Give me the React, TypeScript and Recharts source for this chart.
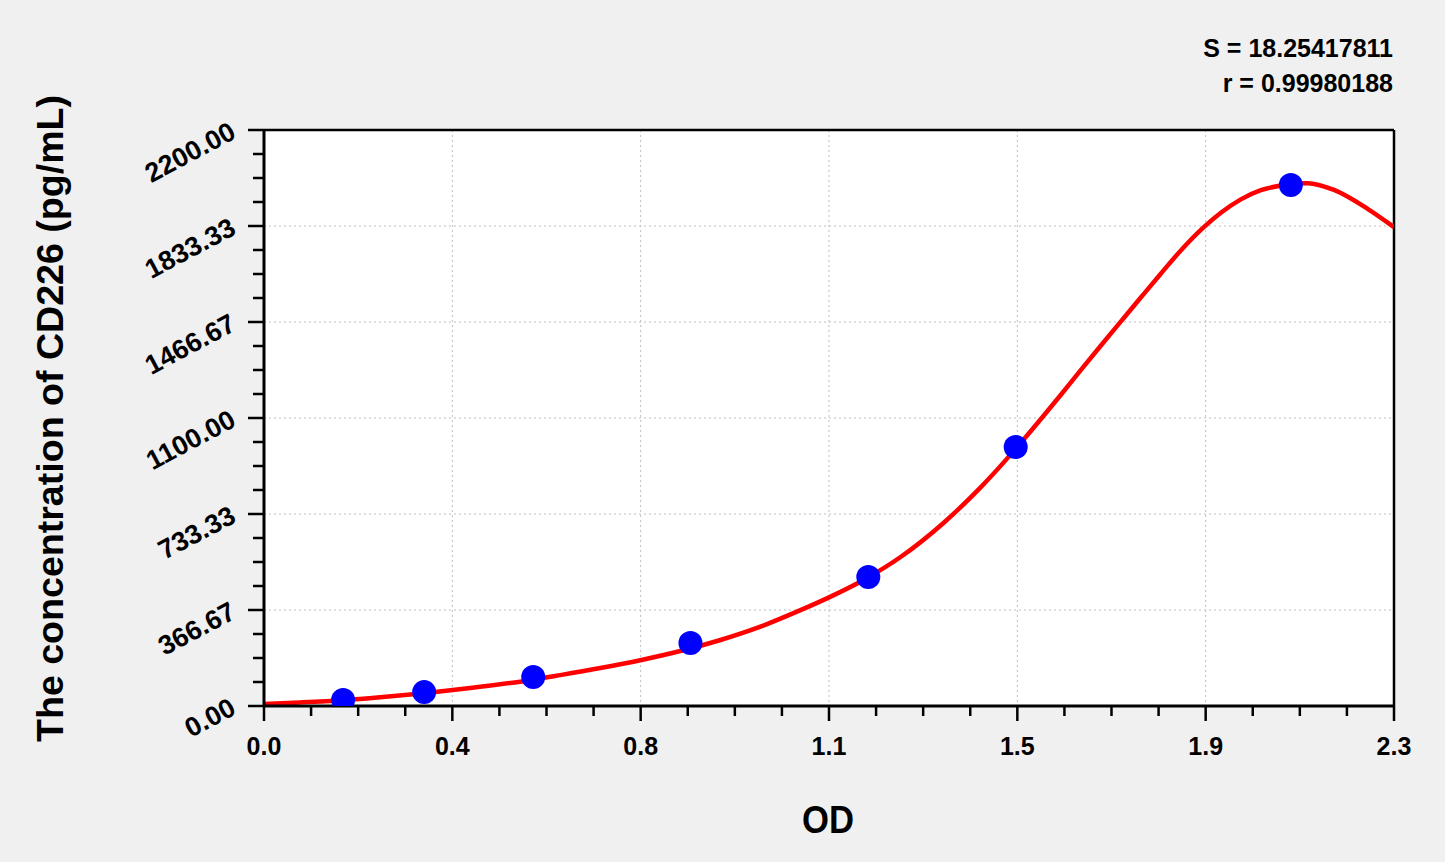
import React from 'react';
import { ComposedChart, Line, Scatter, XAxis, YAxis, CartesianGrid, ReferenceLine } from 'recharts';

// Fitted standard curve (OD -> concentration)
const curveOD = [0, 0.0733, 0.1609, 0.2363, 0.3259, 0.4197, 0.5216, 0.603, 0.6845, 0.766, 0.8475, 0.929, 1.0105, 1.0919, 1.149, 1.2305, 1.2957, 1.3853, 1.4586, 1.5299, 1.5809, 1.6216, 1.6624, 1.7031, 1.7438, 1.7846, 1.8253, 1.8661, 1.9129, 1.9476, 1.9883, 2.0291, 2.0759, 2.1, 2.1248, 2.1778, 2.247, 2.3];
const curveConc = [8, 13.5, 22, 33, 49, 69, 93, 118, 145, 175, 210, 252, 303, 366, 414, 492, 569, 703, 835, 982, 1095, 1188, 1283, 1376, 1468, 1560, 1651, 1740, 1829, 1884, 1935, 1970, 1990, 1996, 1997, 1971, 1898, 1829];

// Measured standards
const pointOD = [0.161, 0.326, 0.548, 0.868, 1.23, 1.53, 2.09];
const pointConc = [23, 53, 111, 241, 493, 989, 1990];

const xTickLabels = ['0.0', '0.4', '0.8', '1.1', '1.5', '1.9', '2.3'];
const yTickLabels = ['0.00', '366.67', '733.33', '1100.00', '1466.67', '1833.33', '2200.00'];
const statLines = ['S = 18.25417811', 'r = 0.99980188'];
const xTitle = 'OD';
const yTitle = 'The concentration of CD226 (pg/mL)';

const X_MAX = 2.3;
const Y_MAX = 2200;
const STEPS = 24; // 6 major intervals x 4 minor
const xTicks = Array.from({ length: STEPS + 1 }, (_, i) => (X_MAX * i) / STEPS);
const yTicks = Array.from({ length: STEPS + 1 }, (_, i) => (Y_MAX * i) / STEPS);
const xGrid = [1, 2, 3, 4, 5].map((i) => (X_MAX * i) / 6);
const yGrid = [1, 2, 3, 4, 5].map((i) => (Y_MAX * i) / 6);

const curveData = curveOD.map((od, i) => ({ od, conc: curveConc[i] }));
const pointData = pointOD.map((od, i) => ({ od, conc: pointConc[i] }));

const FONT = '"Liberation Sans", Arial, Helvetica, sans-serif';

const XTick = (props: any) => {
  const { x, y, index } = props;
  const major = index % 4 === 0;
  const len = major ? 15 : 10;
  return (
    <g>
      <line x1={x} x2={x} y1={y} y2={y + len} stroke="#000" strokeWidth={2.5} />
      {major && (
        <text x={x} y={y + 49} textAnchor="middle" fontFamily={FONT} fontWeight="bold" fontSize={25} fill="#000">
          {xTickLabels[index / 4]}
        </text>
      )}
    </g>
  );
};

const YTick = (props: any) => {
  const { x, y, index } = props;
  const major = index % 4 === 0;
  const len = major ? 16 : 11;
  const tx = x - 31;
  const ty = y - 1;
  return (
    <g>
      <line x1={x - len} x2={x} y1={y} y2={y} stroke="#000" strokeWidth={2.5} />
      {major && (
        <text
          x={tx}
          y={ty}
          dy="0.35em"
          textAnchor="end"
          transform={`rotate(-28 ${tx} ${ty})`}
          fontFamily={FONT}
          fontWeight="bold"
          fontSize={27}
          fill="#000"
        >
          {yTickLabels[index / 4]}
        </text>
      )}
    </g>
  );
};

const Dot = (props: any) => <circle cx={props.cx} cy={props.cy} r={12} fill="#0000ff" />;

export default function App() {
  return (
    <div style={{ position: 'absolute', left: 0, top: 0, width: 1445, height: 862, background: '#f0f0f0' }}>
      <ComposedChart width={1445} height={862} margin={{ top: 130, right: 51, bottom: 0, left: 0 }}>
        <CartesianGrid
          fill="#ffffff"
          fillOpacity={1}
          stroke="#bdbdbd"
          strokeDasharray="2 3"
          strokeWidth={1}
          horizontalValues={yGrid}
          verticalValues={xGrid}
        />
        <XAxis
          type="number"
          dataKey="od"
          domain={[0, X_MAX]}
          ticks={xTicks}
          interval={0}
          height={156}
          tickSize={0}
          tickMargin={0}
          tickLine={false}
          axisLine={{ stroke: '#000', strokeWidth: 3 }}
          tick={<XTick />}
          allowDataOverflow
        />
        <YAxis
          type="number"
          dataKey="conc"
          domain={[0, Y_MAX]}
          ticks={yTicks}
          interval={0}
          width={264}
          tickSize={0}
          tickMargin={0}
          tickLine={false}
          axisLine={{ stroke: '#000', strokeWidth: 3 }}
          tick={<YTick />}
          allowDataOverflow
        />
        <ReferenceLine y={Y_MAX} stroke="#000" strokeWidth={2.5} />
        <ReferenceLine x={X_MAX} stroke="#000" strokeWidth={2.5} />
        <Scatter data={pointData} dataKey="conc" shape={<Dot />} isAnimationActive={false} />
        <Line
          data={curveData}
          dataKey="conc"
          type="monotone"
          stroke="#ff0000"
          strokeWidth={4.5}
          dot={false}
          activeDot={false}
          isAnimationActive={false}
        />
      </ComposedChart>
      <svg
        width={1445}
        height={862}
        style={{ position: 'absolute', left: 0, top: 0, pointerEvents: 'none' }}
      >
        <text x={1393} y={57} textAnchor="end" fontFamily={FONT} fontWeight="bold" fontSize={25} fill="#000">
          {statLines[0]}
        </text>
        <text x={1393} y={92} textAnchor="end" fontFamily={FONT} fontWeight="bold" fontSize={25} fill="#000">
          {statLines[1]}
        </text>
        <text
          x={828}
          y={833}
          textAnchor="middle"
          fontFamily={FONT}
          fontWeight="bold"
          fontSize={38}
          textLength={52}
          lengthAdjust="spacingAndGlyphs"
          fill="#000"
        >
          {xTitle}
        </text>
        <text
          transform="translate(63 418.5) rotate(-90)"
          textAnchor="middle"
          fontFamily={FONT}
          fontWeight="bold"
          fontSize={36}
          textLength={647}
          lengthAdjust="spacingAndGlyphs"
          fill="#000"
        >
          {yTitle}
        </text>
      </svg>
    </div>
  );
}
